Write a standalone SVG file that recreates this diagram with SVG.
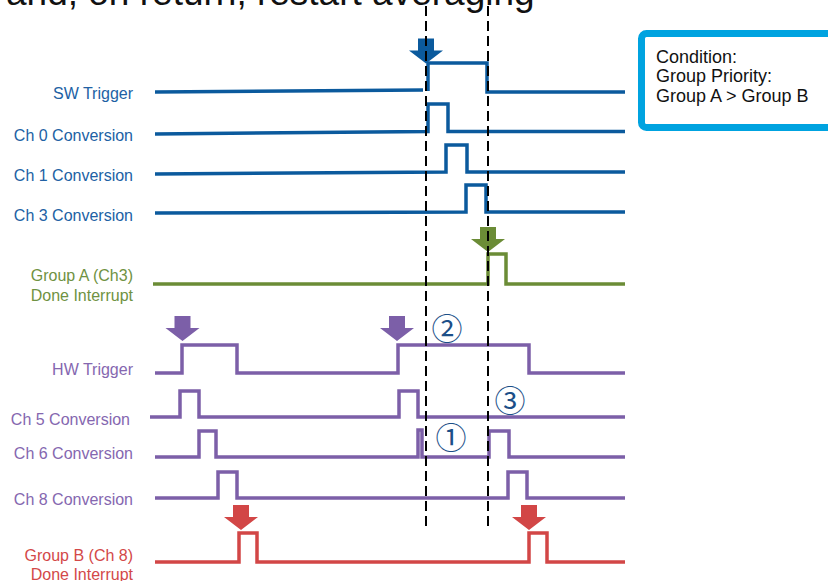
<svg xmlns="http://www.w3.org/2000/svg" width="828" height="581" viewBox="0 0 828 581">
<style>
.lbl{font-family:"Liberation Sans",Arial,sans-serif;font-size:16px;text-anchor:end}
.sig{fill:none;stroke-width:3.5;stroke-linejoin:miter;stroke-linecap:butt}
.blue{stroke:#0b5a9d}.green{stroke:#6b8c36}.purple{stroke:#7c5fa8}.red{stroke:#d24646}
.tb{fill:#2161a4}.tg{fill:#6f9242}.tp{fill:#8567b0}.tr{fill:#d34848}
.num{font-family:"Noto Sans CJK JP","DejaVu Sans",sans-serif;font-size:31px;fill:#1c4f88;text-anchor:middle}
.dash{stroke:#000;stroke-width:2;stroke-dasharray:10,5;fill:none}
.box{font-family:"Liberation Sans",Arial,sans-serif;font-size:18px;fill:#111}
</style>
<defs>
<path id="arr" d="M-8,0 H8 V12 H17 L0,25 L-17,12 H-8 Z"/>
</defs>
<rect width="828" height="581" fill="#fff"/>
<text x="6" y="5" font-family="Liberation Sans,Arial,sans-serif" font-size="37" fill="#111">and, on return, restart averaging</text>

<g id="condition-box">
<rect x="641.5" y="33.5" width="220" height="94" rx="5" fill="#fff" stroke="#00a3e0" stroke-width="7"/>
<text class="box" x="656" y="62.5">Condition:</text>
<text class="box" x="656" y="82">Group Priority:</text>
<text class="box" x="656" y="101.5">Group A &gt; Group B</text>
</g>

<g id="sw-trigger">
<text class="lbl tb" x="133" y="99">SW Trigger</text>
<path class="sig blue" d="M155,92 L423,90"/>
<path class="sig blue" d="M428,91 V63 H487 V92 H625"/>
<use href="#arr" x="426" y="38.5" fill="#0b5a9d"/>
</g>
<g id="ch0">
<text class="lbl tb" x="133" y="141">Ch 0 Conversion</text>
<path class="sig blue" d="M155,134 L428,131.5 V104 H448 V131.5 H625"/>
</g>
<g id="ch1">
<text class="lbl tb" x="133" y="181">Ch 1 Conversion</text>
<path class="sig blue" d="M155,174 L446,172 V145 H467 V172 H625"/>
</g>
<g id="ch3">
<text class="lbl tb" x="133" y="221">Ch 3 Conversion</text>
<path class="sig blue" d="M155,213 L466,212 V185 H486 V212 H625"/>
</g>
<g id="group-a">
<text class="lbl tg" x="133" y="281">Group A (Ch3)</text>
<text class="lbl tg" x="133" y="301">Done Interrupt</text>
<path class="sig green" d="M153,284 H488 V254 H506 V284 H625"/>
<use href="#arr" x="488" y="227" fill="#6b8c36"/>
</g>
<g id="hw-trigger">
<text class="lbl tp" x="133" y="374.5">HW Trigger</text>
<path class="sig purple" d="M155,373 H182 V345 H237 V373 H398 V345 H529 V373 H625"/>
<use href="#arr" x="182.5" y="316" fill="#7c5fa8"/>
<use href="#arr" x="397" y="316" fill="#7c5fa8"/>
</g>
<g id="ch5">
<text class="lbl tp" x="130" y="424.5">Ch 5 Conversion</text>
<path class="sig purple" d="M150,417 H180 V391 H199 V417 H399 V391 H418 V417 H625"/>
</g>
<g id="ch6">
<text class="lbl tp" x="133" y="459">Ch 6 Conversion</text>
<path class="sig purple" d="M155,457 H199 V431 H216 V457 H418 V430 H422 V457 H489 V431 H509 V457 H625"/>
</g>
<g id="ch8">
<text class="lbl tp" x="133" y="504.5">Ch 8 Conversion</text>
<path class="sig purple" d="M155,498 H218 V472 H237 V498 H508 V472 H527 V498 H625"/>
</g>
<g id="group-b">
<text class="lbl tr" x="133" y="561">Group B (Ch 8)</text>
<text class="lbl tr" x="133" y="579.5">Done Interrupt</text>
<path class="sig red" d="M155,562 H239 V533 H257 V562 H529 V533 H547 V562 H625"/>
<use href="#arr" x="241" y="505" fill="#d24646"/>
<use href="#arr" x="529" y="505" fill="#d24646"/>
</g>

<g id="connectors">
<line class="dash" x1="426" y1="6" x2="426" y2="530"/>
<line class="dash" x1="488" y1="6" x2="488" y2="530"/>
</g>

<g id="markers">
<text class="num" x="447" y="340">②</text>
<text class="num" x="510" y="412">③</text>
<text class="num" x="451" y="449">①</text>
</g>
</svg>
